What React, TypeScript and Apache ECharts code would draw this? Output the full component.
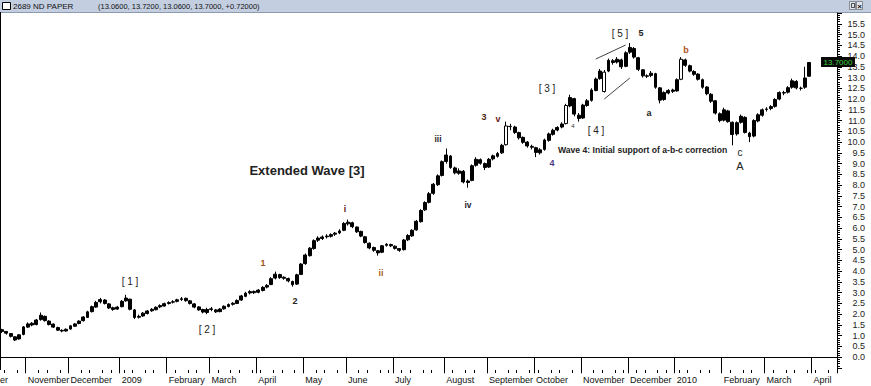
import React, { useEffect, useRef } from 'react';
import * as echarts from 'echarts';

// ---------- data ----------
const TITLE_NAME = '2689 ND PAPER';
const TITLE_VALUES = '(13.0600, 13.7200, 13.0600, 13.7000, +0.72000)';
const LAST_PRICE = '13.7000';
const FIRST_DATE = [2008, 9, 16]; // 16 Oct 2008, each bar spans two trading days
const CATEGORY_COUNT = 196;
const MONTH_NAMES = ['January', 'February', 'March', 'April', 'May', 'June', 'July', 'August', 'September', 'October', 'November', 'December'];

// [open, close, low, high]
const ohlc: number[][] = [
  [1.28, 1.20, 1.12, 1.32], [1.20, 1.12, 1.05, 1.22], [1.10, 0.97, 0.92, 1.12], [0.95, 0.80, 0.76, 0.98],
  [0.85, 1.04, 0.82, 1.08], [1.06, 1.41, 1.02, 1.45], [1.40, 1.55, 1.36, 1.62], [1.58, 1.50, 1.44, 1.63],
  [1.52, 1.73, 1.48, 1.78], [1.75, 1.95, 1.70, 2.08], [1.90, 1.70, 1.66, 1.94], [1.68, 1.52, 1.48, 1.72],
  [1.54, 1.40, 1.36, 1.57], [1.38, 1.26, 1.22, 1.42], [1.25, 1.22, 1.16, 1.30], [1.22, 1.30, 1.19, 1.34],
  [1.31, 1.46, 1.28, 1.49], [1.44, 1.55, 1.41, 1.59], [1.57, 1.68, 1.53, 1.72], [1.70, 1.87, 1.66, 1.91],
  [1.85, 2.11, 1.83, 2.16], [2.12, 2.35, 2.08, 2.40], [2.33, 2.55, 2.30, 2.62], [2.58, 2.68, 2.50, 2.76],
  [2.66, 2.50, 2.45, 2.70], [2.48, 2.29, 2.24, 2.52], [2.30, 2.22, 2.16, 2.35], [2.24, 2.33, 2.20, 2.38],
  [2.35, 2.60, 2.32, 2.66], [2.62, 2.75, 2.58, 2.90], [2.70, 2.23, 2.18, 2.72], [2.20, 1.85, 1.78, 2.24],
  [1.86, 1.90, 1.80, 1.98], [1.92, 2.05, 1.88, 2.10], [2.03, 2.15, 1.99, 2.19], [2.16, 2.23, 2.11, 2.28],
  [2.21, 2.32, 2.18, 2.37], [2.34, 2.40, 2.28, 2.46], [2.38, 2.49, 2.35, 2.54], [2.50, 2.54, 2.45, 2.60],
  [2.56, 2.58, 2.50, 2.65], [2.60, 2.67, 2.55, 2.72], [2.68, 2.72, 2.62, 2.80], [2.74, 2.63, 2.58, 2.77],
  [2.62, 2.50, 2.45, 2.66], [2.48, 2.33, 2.28, 2.52], [2.34, 2.20, 2.16, 2.37], [2.22, 2.10, 2.04, 2.25],
  [2.08, 2.22, 2.00, 2.30], [2.25, 2.22, 2.14, 2.34], [2.20, 2.11, 2.06, 2.24], [2.12, 2.24, 2.09, 2.28],
  [2.25, 2.37, 2.21, 2.41], [2.36, 2.45, 2.32, 2.50], [2.46, 2.51, 2.40, 2.56], [2.50, 2.64, 2.47, 2.69],
  [2.66, 2.85, 2.62, 2.90], [2.83, 2.98, 2.79, 3.04], [2.99, 3.05, 2.92, 3.12], [3.06, 3.00, 2.94, 3.10],
  [3.02, 3.12, 2.97, 3.17], [3.10, 3.25, 3.06, 3.30], [3.26, 3.34, 3.20, 3.40], [3.38, 3.65, 3.35, 3.72],
  [3.68, 3.86, 3.62, 3.98], [3.84, 3.70, 3.64, 3.88], [3.72, 3.67, 3.60, 3.76], [3.66, 3.55, 3.48, 3.70],
  [3.52, 3.37, 3.28, 3.56], [3.40, 3.83, 3.36, 3.88], [3.85, 4.33, 3.82, 4.38], [4.35, 4.75, 4.30, 4.82],
  [4.72, 5.07, 4.68, 5.12], [5.05, 5.42, 5.00, 5.48], [5.44, 5.54, 5.36, 5.62], [5.52, 5.59, 5.45, 5.66],
  [5.60, 5.63, 5.52, 5.72], [5.62, 5.70, 5.56, 5.76], [5.72, 5.77, 5.64, 5.82], [5.78, 5.87, 5.72, 5.95],
  [5.90, 6.22, 5.86, 6.28], [6.20, 6.28, 6.12, 6.40], [6.25, 6.07, 6.00, 6.30], [6.05, 5.83, 5.78, 6.08],
  [5.85, 5.63, 5.58, 5.88], [5.60, 5.33, 5.28, 5.64], [5.30, 5.08, 5.02, 5.34], [5.10, 4.97, 4.90, 5.14],
  [4.95, 4.85, 4.72, 4.99], [4.88, 5.18, 4.84, 5.22], [5.20, 5.25, 5.14, 5.30], [5.24, 5.18, 5.12, 5.28],
  [5.16, 5.06, 5.00, 5.20], [5.05, 4.97, 4.90, 5.08], [5.00, 5.45, 4.96, 5.50], [5.46, 5.66, 5.40, 5.72],
  [5.64, 5.90, 5.60, 5.95], [5.92, 6.32, 5.88, 6.38], [6.30, 6.82, 6.26, 6.88], [6.85, 7.19, 6.80, 7.25],
  [7.20, 7.60, 7.15, 7.68], [7.62, 8.04, 7.55, 8.10], [8.02, 8.43, 7.96, 8.50], [8.45, 9.09, 8.40, 9.15],
  [9.10, 9.40, 9.00, 9.70], [9.35, 8.82, 8.76, 9.40], [8.80, 8.57, 8.50, 8.86], [8.55, 8.66, 8.48, 8.78],
  [8.64, 8.15, 8.08, 8.70], [8.12, 8.19, 7.88, 8.26], [8.22, 8.90, 8.18, 8.96], [8.92, 9.20, 8.86, 9.30],
  [9.18, 9.02, 8.95, 9.24], [9.00, 8.82, 8.70, 9.05], [8.84, 9.20, 8.80, 9.26], [9.22, 9.36, 9.15, 9.42],
  [9.34, 9.47, 9.28, 9.54], [9.50, 9.85, 9.45, 9.92], [9.88, 10.75, 9.84, 10.95], [10.72, 10.73, 10.55, 10.85],
  [10.70, 10.45, 10.38, 10.76], [10.44, 10.20, 10.12, 10.48], [10.22, 9.99, 9.92, 10.26], [10.00, 9.82, 9.74, 10.05],
  [9.80, 9.76, 9.66, 9.88], [9.74, 9.52, 9.30, 9.78], [9.50, 9.64, 9.42, 9.72], [9.66, 10.10, 9.60, 10.16],
  [10.08, 10.38, 10.02, 10.44], [10.36, 10.55, 10.30, 10.62], [10.56, 10.68, 10.50, 10.74], [10.70, 10.84, 10.64, 10.92],
  [10.86, 11.70, 10.82, 11.78], [11.68, 12.07, 11.62, 12.20], [12.02, 11.30, 11.20, 12.06], [11.25, 11.10, 10.95, 11.35],
  [11.12, 11.72, 11.08, 11.78], [11.70, 11.92, 11.64, 12.00], [11.94, 12.42, 11.88, 12.50], [12.40, 12.93, 12.36, 13.00],
  [12.95, 13.30, 12.90, 13.40], [12.35, 13.25, 12.30, 13.35], [13.30, 13.80, 13.25, 13.88], [13.78, 13.70, 13.60, 13.86],
  [13.72, 13.85, 13.65, 13.95], [13.82, 13.50, 13.40, 13.88], [13.52, 14.15, 13.48, 14.22], [14.18, 14.40, 14.10, 14.60],
  [14.35, 13.95, 13.88, 14.42], [13.92, 13.38, 13.30, 13.96], [13.36, 13.08, 13.00, 13.40], [13.06, 13.08, 12.98, 13.15],
  [13.10, 13.20, 13.02, 13.30], [13.18, 12.55, 12.48, 13.22], [12.52, 11.95, 11.80, 12.56], [11.98, 12.30, 11.92, 12.36],
  [12.28, 12.40, 12.22, 12.46], [12.42, 12.36, 12.28, 12.48], [12.38, 12.90, 12.34, 12.96], [12.92, 13.85, 12.88, 13.95],
  [13.82, 13.57, 13.50, 13.88], [13.55, 13.30, 13.24, 13.60], [13.28, 13.15, 13.08, 13.34], [13.16, 12.92, 12.86, 13.20],
  [12.90, 12.55, 12.48, 12.95], [12.56, 12.25, 12.18, 12.60], [12.22, 11.90, 11.82, 12.28], [11.92, 11.35, 11.28, 11.96],
  [11.32, 11.00, 10.92, 11.38], [11.02, 11.50, 10.96, 11.60], [11.45, 10.95, 10.90, 11.50], [10.92, 10.35, 9.85, 10.96],
  [10.38, 10.90, 10.30, 10.96], [10.92, 11.20, 10.86, 11.28], [11.15, 10.45, 10.40, 11.20], [10.42, 10.25, 10.00, 10.48],
  [10.28, 11.00, 10.22, 11.06], [10.98, 11.27, 10.92, 11.34], [11.25, 11.50, 11.18, 11.56], [11.52, 11.54, 11.42, 11.62],
  [11.56, 11.65, 11.48, 11.72], [11.66, 11.98, 11.60, 12.04], [12.00, 12.30, 11.94, 12.36], [12.28, 12.30, 12.18, 12.38],
  [12.32, 12.53, 12.26, 12.60], [12.55, 12.85, 12.48, 12.95], [12.82, 12.52, 12.45, 12.88], [12.50, 12.50, 12.40, 12.58],
  [12.55, 12.98, 12.48, 13.50], [13.06, 13.70, 13.06, 13.72],
];

// bars drawn with a hollow (white) body in the reference
const hollowBars = [118, 132, 141, 159];

// wedge trendlines: [startBar, startValue, endBar, endValue]
const wedgeLines: number[][] = [
  [139, 13.86, 146, 14.51],
  [141, 12.0, 147, 12.98],
];

// wave annotations: [text, x, y, color, size, bold]
const waveLabels: [string, number, number, string, number, boolean][] = [
  ['[ 1 ]', 130, 281, '#222', 10, false],
  ['[ 2 ]', 207, 329, '#222', 10, false],
  ['1', 263, 263, '#a0521d', 9, true],
  ['2', 295, 301, '#222', 9, true],
  ['i', 345, 209, '#5e1616', 9, true],
  ['ii', 381, 273, '#a8621e', 9, true],
  ['iii', 438, 139, '#2a1a2a', 8.5, true],
  ['iv', 468, 205, '#222230', 8.5, true],
  ['3', 484, 117, '#4a2a12', 9, true],
  ['v', 498, 119, '#6e1a1a', 9, true],
  ['4', 552, 163, '#4b3a86', 9, true],
  ['4', 573, 126, '#333', 6, false],
  ['[ 3 ]', 547, 88, '#222', 10, false],
  ['[ 4 ]', 596, 130, '#222', 10, false],
  ['[ 5 ]', 620, 33, '#222', 10, false],
  ['5', 641, 33, '#222', 9, true],
  ['a', 649, 113, '#222', 9, true],
  ['b', 686, 50, '#b0521a', 9, true],
  ['c', 740, 152, '#222', 10, false],
  ['A', 740, 166, '#222', 11, false],
];

const FONT = '"Liberation Sans", Arial, sans-serif';

function buildDates(): string[] {
  const out: string[] = [];
  const d = new Date(Date.UTC(FIRST_DATE[0], FIRST_DATE[1], FIRST_DATE[2]));
  let k = 0;
  while (out.length < CATEGORY_COUNT) {
    const wd = d.getUTCDay();
    if (wd !== 0 && wd !== 6) {
      if (k % 2 === 0) out.push(d.toISOString().slice(0, 10));
      k++;
    }
    d.setUTCDate(d.getUTCDate() + 1);
  }
  return out;
}

export default function App() {
  const ref = useRef<HTMLDivElement>(null);
  useEffect(() => {
    if (!ref.current) return;
    const chart = echarts.init(ref.current, null, { renderer: 'svg' });
    const dates = buildDates();
    const monthOf = (s: string) => Number(s.slice(5, 7)) - 1;
    const isMonthStart = (i: number) => i > 0 && monthOf(dates[i]) !== monthOf(dates[i - 1]);
    const dayNum = (s: string) => Date.parse(s + 'T00:00:00Z') / 86400000;
    const dow = (s: string) => new Date(s + 'T00:00:00Z').getUTCDay();
    const isWeekStart = (i: number) =>
      i > 0 && (dow(dates[i]) < dow(dates[i - 1]) || dayNum(dates[i]) - dayNum(dates[i - 1]) > 4);

    const seriesData = dates.map((_, i) => {
      if (i >= ohlc.length) return '-';
      if (hollowBars.includes(i)) return { value: ohlc[i], itemStyle: { color: '#ffffff' } };
      return ohlc[i];
    });

    const graphics: any[] = [
      { type: 'rect', shape: { x: 0, y: 0, width: 871, height: 12 }, style: { fill: '#c3cee0' }, silent: true },
      { type: 'line', shape: { x1: 0, y1: 12.5, x2: 871, y2: 12.5 }, style: { stroke: '#8e9ab0', lineWidth: 1 } },
      { type: 'rect', shape: { x: 2.5, y: 2.5, width: 8, height: 7 }, style: { fill: '#fff', stroke: '#000', lineWidth: 1 } },
      { type: 'text', x: 13, y: 6, style: { text: TITLE_NAME, font: `8px ${FONT}`, fill: '#111', verticalAlign: 'middle' } },
      { type: 'text', x: 98, y: 6, style: { text: TITLE_VALUES, font: `7.5px ${FONT}`, fill: '#111', verticalAlign: 'middle' } },
      { type: 'rect', shape: { x: 849.5, y: 1.5, width: 6, height: 8 }, style: { fill: '#dfe5ee', stroke: '#555', lineWidth: 0.6 } },
      { type: 'rect', shape: { x: 851.5, y: 3.5, width: 3, height: 4 }, style: { fill: 'none', stroke: '#222', lineWidth: 0.8 } },
      { type: 'rect', shape: { x: 856.5, y: 1.5, width: 6, height: 8 }, style: { fill: '#dfe5ee', stroke: '#555', lineWidth: 0.6 } },
      { type: 'text', x: 859.5, y: 6, style: { text: '×', font: `bold 8px ${FONT}`, fill: '#111', align: 'center', verticalAlign: 'middle' } },
      { type: 'line', shape: { x1: 0.5, y1: 12, x2: 0.5, y2: 370 }, style: { stroke: '#000', lineWidth: 1 } },
      { type: 'text', x: -24, y: 380, style: { text: 'October', font: `9px ${FONT}`, fill: '#111', verticalAlign: 'middle' } },
      { type: 'rect', shape: { x: 821, y: 57, width: 34, height: 10 }, style: { fill: '#0a0a0a' }, z: 100 },
      { type: 'text', x: 838, y: 62, z: 101, style: { text: LAST_PRICE, font: `8px ${FONT}`, fill: '#3ad13a', align: 'center', verticalAlign: 'middle' } },
      { type: 'text', x: 307, y: 170, style: { text: 'Extended Wave [3]', font: `bold 13px ${FONT}`, fill: '#222', align: 'center', verticalAlign: 'middle' } },
      { type: 'text', x: 558, y: 150, style: { text: 'Wave 4: Initial support of a-b-c correction', font: `bold 8.6px ${FONT}`, fill: '#222', verticalAlign: 'middle' } },
    ];
    waveLabels.forEach(([t, x, y, c, s, b]) => {
      graphics.push({
        type: 'text', x, y,
        style: { text: t, font: `${b ? 'bold ' : ''}${s}px ${FONT}`, fill: c, align: 'center', verticalAlign: 'middle' },
      });
    });

    chart.setOption({
      animation: false,
      backgroundColor: '#ffffff',
      grid: { left: 0, right: 34, top: 13, bottom: 18 },
      xAxis: [
        {
          type: 'category',
          data: dates,
          offset: 2,
          boundaryGap: true,
          axisLine: { show: true, lineStyle: { color: '#000', width: 1 } },
          axisTick: { show: true, interval: (i: number) => isMonthStart(i), length: 16, lineStyle: { color: '#000' } },
          axisLabel: {
            show: true,
            interval: (i: number) => isMonthStart(i),
            formatter: (v: string) => {
              const m = monthOf(v);
              return m === 0 ? v.slice(0, 4) : MONTH_NAMES[m];
            },
            align: 'left',
            margin: 5,
            fontSize: 9,
            fontFamily: FONT,
            color: '#111',
          },
          splitLine: { show: false },
        },
        {
          type: 'category',
          data: dates,
          offset: 2,
          position: 'bottom',
          boundaryGap: true,
          axisLine: { show: false },
          axisTick: { show: true, interval: (i: number) => isWeekStart(i), length: 3, lineStyle: { color: '#000' } },
          axisLabel: { show: false },
          splitLine: { show: false },
        },
      ],
      yAxis: {
        type: 'value',
        position: 'right',
        min: -0.5,
        max: 16,
        interval: 0.5,
        axisLine: { show: true, lineStyle: { color: '#000', width: 1 } },
        axisTick: { show: true, length: 5, lineStyle: { color: '#000' } },
        minorTick: { show: true, splitNumber: 5, length: 3, lineStyle: { color: '#000' } },
        splitLine: { show: false },
        axisLabel: {
          formatter: (v: number) => (v < -0.01 || v > 15.6 ? '' : v.toFixed(1)),
          align: 'right',
          margin: 28,
          fontSize: 9,
          fontFamily: FONT,
          color: '#222',
        },
      },
      series: [
        {
          type: 'candlestick',
          data: seriesData,
          barWidth: 3.4,
          itemStyle: { color: '#000000', color0: '#000000', borderColor: '#000000', borderColor0: '#000000', borderWidth: 1 },
          markLine: {
            silent: true,
            symbol: 'none',
            label: { show: false },
            lineStyle: { color: '#111', width: 0.8, type: 'solid' },
            data: wedgeLines.map(([b0, v0, b1, v1]) => [
              { coord: [dates[b0], v0] },
              { coord: [dates[b1], v1] },
            ]),
          },
        },
      ],
      graphic: graphics,
    });
    return () => chart.dispose();
  }, []);
  return <div ref={ref} style={{ position: 'fixed', left: 0, top: 0, width: 871, height: 386 }} />;
}
